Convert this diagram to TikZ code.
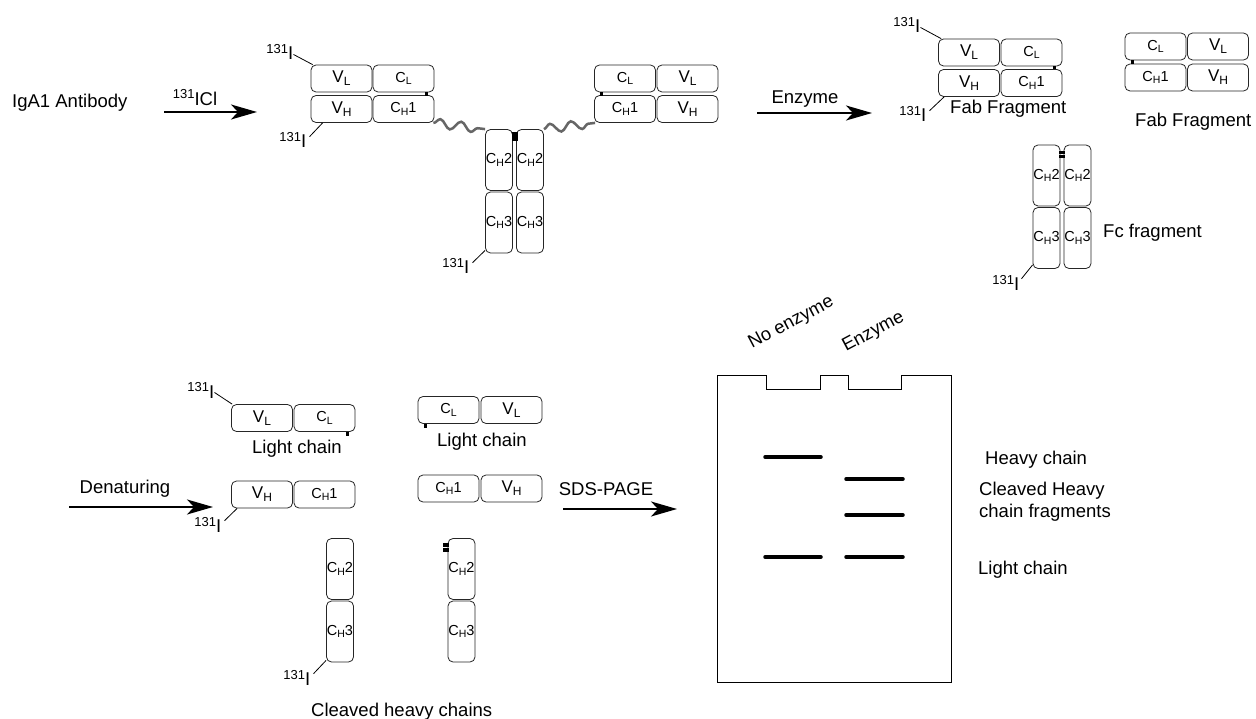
\documentclass[tikz,border=0pt]{standalone}
\usepackage{fontspec}
\setmainfont{Liberation Sans}
\usetikzlibrary{arrows.meta,decorations.pathmorphing}
\newcommand{\mainsize}{\fontsize{18.5}{20}\selectfont}
\newcommand{\isoI}{{\fontsize{13}{13}\selectfont\raisebox{6pt}{131}}I}
\newcommand{\domV}[1]{{\fontsize{17}{17}\selectfont V\raisebox{-3pt}{\fontsize{12}{12}\selectfont #1}}}
\newcommand{\domC}[2]{{\fontsize{14.5}{14.5}\selectfont C\raisebox{-2.5pt}{\fontsize{10.5}{10.5}\selectfont #1}#2}}
\begin{document}
\begin{tikzpicture}[x=1pt,y=-1pt,font=\mainsize,
  hdom/.style={draw=black!85,line width=0.8pt,rounded corners=5pt,minimum width=61pt,minimum height=27pt,inner sep=0pt},
  vdom/.style={draw=black!85,line width=0.8pt,rounded corners=5pt,minimum width=27pt,minimum height=61pt,inner sep=0pt},
  iso/.style={inner sep=0pt,anchor=base east},
  lbl/.style={inner sep=0pt,anchor=base west},
  alab/.style={inner sep=0pt,anchor=base},
  arr/.style={line width=2pt,-{Stealth[length=26pt,width=15pt,inset=7pt]}},
  wave/.style={draw=black!60,line width=2.5pt,decorate,decoration={snake,segment length=21pt,amplitude=4.5pt}},
  ss/.style={fill=black},
  band/.style={line width=3.5pt,line cap=round},
  gel/.style={draw,line width=1pt},
  tick/.style={line width=0.8pt}]
\fill[white] (0,0) rectangle (1256,719);
\useasboundingbox (0,0) rectangle (1256,719);

% ---------- intact antibody ----------
\node[hdom] (VLa) at (341.5,78.5) {\domV{L}};
\node[hdom] (CLa) at (403.5,78.5) {\domC{L}{}};
\node[hdom] (VHa) at (341.5,109) {\domV{H}};
\node[hdom] (CHa) at (403.5,109) {\domC{H}{1}};
\node[hdom] (CLb) at (625,78.5) {\domC{L}{}};
\node[hdom] (VLb) at (687.5,78.5) {\domV{L}};
\node[hdom] (CHb) at (625,109) {\domC{H}{1}};
\node[hdom] (VHb) at (687.5,109) {\domV{H}};
\node[vdom] (CH2a) at (499,160) {\domC{H}{2}};
\node[vdom] (CH2b) at (530,160) {\domC{H}{2}};
\node[vdom] (CH3a) at (499,222.5) {\domC{H}{3}};
\node[vdom] (CH3b) at (530,222.5) {\domC{H}{3}};
\draw[wave] ([xshift=-1pt]CHa.south east) -- (CH2a.north west);
\draw[wave] (CH2b.north east) -- ([xshift=1pt]CHb.south west);
\fill[ss] (424.5,92) rectangle (427.5,96);
\fill[ss] (599.5,92) rectangle (602.5,96);
\fill[ss] (511.5,132) rectangle (518,141);
\node[iso] (isoA1) at (293.5,60) {\isoI};
\node[iso] (isoA2) at (306.5,148) {\isoI};
\node[iso] (isoA3) at (469.5,274) {\isoI};
\draw[tick] ([yshift=-2pt]isoA1.east) -- ([xshift=2pt]VLa.north west);
\draw[tick] ([xshift=12pt]VHa.south west) -- ([xshift=3pt,yshift=-4pt]isoA2.north east);
\draw[tick] ([yshift=3pt]CH3a.south west) -- ([xshift=3pt,yshift=-4pt]isoA3.north east);

% ---------- Fab / Fc ----------
\node[hdom] (VLf) at (969,52.5) {\domV{L}};
\node[hdom] (CLf) at (1031.5,52.5) {\domC{L}{}};
\node[hdom] (VHf) at (969,83) {\domV{H}};
\node[hdom] (CHf) at (1031.5,83) {\domC{H}{1}};
\node[hdom] (CLg) at (1155.5,46.5) {\domC{L}{}};
\node[hdom] (VLg) at (1218,46.5) {\domV{L}};
\node[hdom] (CHg) at (1155.5,77.5) {\domC{H}{1}};
\node[hdom] (VHg) at (1218,77.5) {\domV{H}};
\fill[ss] (1053,66) rectangle (1056,69.5);
\fill[ss] (1130.5,60) rectangle (1133.5,64);
\node[vdom] (CH2c) at (1046.5,175.5) {\domC{H}{2}};
\node[vdom] (CH2d) at (1077.5,175.5) {\domC{H}{2}};
\node[vdom] (CH3c) at (1046.5,238) {\domC{H}{3}};
\node[vdom] (CH3d) at (1077.5,238) {\domC{H}{3}};
\fill[ss] (1059,151) rectangle (1065,154);
\fill[ss] (1059,155) rectangle (1065,158);
\node[iso] (isoF1) at (920.5,33) {\isoI};
\node[iso] (isoF2) at (926.5,122) {\isoI};
\node[iso] (isoFc) at (1019.5,291) {\isoI};
\draw[tick] ([yshift=-2pt]isoF1.east) -- ([xshift=3pt]VLf.north west);
\draw[tick] ([xshift=6pt]VHf.south west) -- ([xshift=3pt,yshift=-4pt]isoF2.north east);
\draw[tick] ([yshift=4pt]CH3c.south west) -- ([xshift=2pt,yshift=-3pt]isoFc.north east);
\node[lbl] (fab1) at (950,114) {Fab Fragment};
\node[lbl] (fab2) at (1135,127) {Fab Fragment};
\node[lbl] (fc) at (1103,238) {Fc fragment};

% ---------- denatured chains ----------
\node[hdom] (VLd) at (262,418) {\domV{L}};
\node[hdom] (CLd) at (324.5,418) {\domC{L}{}};
\node[hdom] (VHd) at (262,494.5) {\domV{H}};
\node[hdom] (CHd) at (324.5,494.5) {\domC{H}{1}};
\node[hdom] (CLe) at (448.5,410) {\domC{L}{}};
\node[hdom] (VLe) at (511.5,410) {\domV{L}};
\node[hdom] (CHe) at (448.5,488.5) {\domC{H}{1}};
\node[hdom] (VHe) at (511.5,488.5) {\domV{H}};
\node[vdom] (CH2x) at (340,569) {\domC{H}{2}};
\node[vdom] (CH3x) at (340,631.5) {\domC{H}{3}};
\node[vdom] (CH2y) at (461.5,569) {\domC{H}{2}};
\node[vdom] (CH3y) at (461.5,631.5) {\domC{H}{3}};
\fill[ss] (345.5,431.5) rectangle (348.5,435.5);
\fill[ss] (424,423.5) rectangle (427,427.5);
\fill[ss] (443,543) rectangle (449,546.5);
\fill[ss] (443,548) rectangle (449,551.5);
\node[iso] (isoD1) at (214.5,398) {\isoI};
\node[iso] (isoD2) at (221.5,532) {\isoI};
\node[iso] (isoD3) at (310.5,685) {\isoI};
\draw[tick] ([yshift=-2pt]isoD1.east) -- ([xshift=1pt]VLd.north west);
\draw[tick] ([xshift=6pt]VHd.south west) -- ([xshift=3pt,yshift=-4pt]isoD2.north east);
\draw[tick] ([yshift=2pt]CH3x.south west) -- ([xshift=3pt,yshift=-4pt]isoD3.north east);
\node[lbl] (lc1) at (252,453) {Light chain};
\node[lbl] (lc2) at (437,446) {Light chain};
\node[lbl] (chc) at (311,716) {Cleaved heavy chains};

% ---------- arrows ----------
\node[lbl] (igA) at (12,108) {IgA1 Antibody};
\coordinate (a1s) at (164,112); \coordinate (a1e) at (257,112);
\draw[arr] (a1s) -- (a1e);
\node[alab] (a1l) at (195,106) {{\fontsize{13}{13}\selectfont\raisebox{7pt}{131}}ICl};
\coordinate (a2s) at (757,113); \coordinate (a2e) at (872,113);
\draw[arr] (a2s) -- (a2e);
\node[alab] (a2l) at (805,104) {Enzyme};
\coordinate (a3s) at (69,507); \coordinate (a3e) at (213,507);
\draw[arr] (a3s) -- (a3e);
\node[alab] (a3l) at (125,493) {Denaturing};
\coordinate (a4s) at (563,509); \coordinate (a4e) at (677,509);
\draw[arr] (a4s) -- (a4e);
\node[alab] (a4l) at (606,495) {SDS-PAGE};

% ---------- gel ----------
\draw[gel] (717,375) -- (766,375) -- (766,389) -- (820,389) -- (820,375) -- (848,375) -- (848,389) -- (901,389) -- (901,375) -- (951,375) -- (951,682) -- (717,682) -- cycle;
\draw[band] (765,457) -- (821,457);
\draw[band] (765,557) -- (821,557);
\draw[band] (846,479) -- (903,479);
\draw[band] (846,515) -- (903,515);
\draw[band] (846,557) -- (903,557);
\node[lbl,rotate=28] (noenz) at (752,349) {No enzyme};
\node[lbl,rotate=28] (enz) at (846,352) {Enzyme};
\node[lbl] (hc) at (985,464) {Heavy chain};
\node[lbl] (chf1) at (979,495) {Cleaved Heavy};
\node[lbl] (chf2) at (979,517) {chain fragments};
\node[lbl] (lcg) at (978,574) {Light chain};
\end{tikzpicture}
\end{document}
